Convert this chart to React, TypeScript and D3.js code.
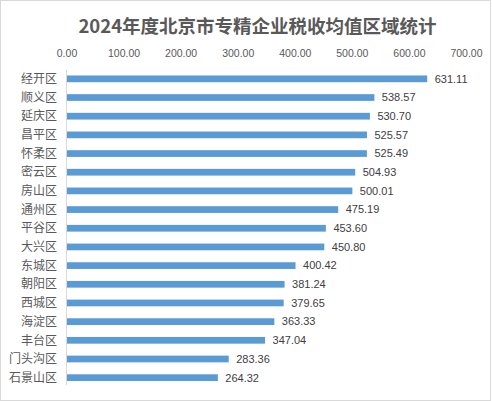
import React from "react";
import * as d3 from "d3";

const districts = [
  "经开区", "顺义区", "延庆区", "昌平区", "怀柔区", "密云区", "房山区", "通州区", "平谷区",
  "大兴区", "东城区", "朝阳区", "西城区", "海淀区", "丰台区", "门头沟区", "石景山区",
];
const avgTax = [
  631.11, 538.57, 530.7, 525.57, 525.49, 504.93, 500.01, 475.19, 453.6,
  450.8, 400.42, 381.24, 379.65, 363.33, 347.04, 283.36, 264.32,
];
const ticks = [0, 100, 200, 300, 400, 500, 600, 700];

const W = 492;
const H = 401;
const font = "'Liberation Sans', Arial, 'Noto Sans CJK SC', sans-serif";

export default function App() {
  const x = d3.scaleLinear().domain([0, 700]).range([67, 466.5]);
  const y = d3
    .scaleBand()
    .domain(districts)
    .range([69.5, 387])
    .paddingInner(0.64)
    .paddingOuter(0.32);

  return (
    <div style={{ position: "absolute", left: 0, top: 0 }}>
      <svg width={W} height={H} style={{ display: "block", fontFamily: font }}>
        <rect x={0.5} y={0.5} width={W - 2} height={H - 1} fill="#fff" stroke="#d9d9d9" />
        <text
          x={257.5}
          y={33}
          textAnchor="middle"
          fontSize={18.5}
          fontWeight="bold"
          fill="#595959"
          fontFamily="'Noto Sans CJK SC', sans-serif"
        >
          2024年度北京市专精企业税收均值区域统计
        </text>

        {ticks.map((t) => (
          <text key={t} x={x(t)} y={57} textAnchor="middle" fontSize={10.5} fill="#595959">
            {t.toFixed(2)}
          </text>
        ))}

        <line x1={x(0) - 0.5} x2={x(0) - 0.5} y1={70} y2={385} stroke="#d9d9d9" />

        {districts.map((d, i) => {
          const yy = y(d)!;
          const cy = yy + y.bandwidth() / 2;
          return (
            <g key={d}>
              <rect x={x(0)} y={yy} width={x(avgTax[i]) - x(0)} height={y.bandwidth()} fill="#5b9bd5" />
              <text
                x={57}
                y={cy}
                dy="0.35em"
                textAnchor="end"
                fontSize={12}
                fill="#595959"
                fontFamily="'Noto Sans CJK SC', sans-serif"
              >
                {d}
              </text>
              <text x={x(avgTax[i]) + 7.5} y={cy} dy="0.35em" fontSize={11} fill="#404040">
                {avgTax[i].toFixed(2)}
              </text>
            </g>
          );
        })}
      </svg>
    </div>
  );
}
